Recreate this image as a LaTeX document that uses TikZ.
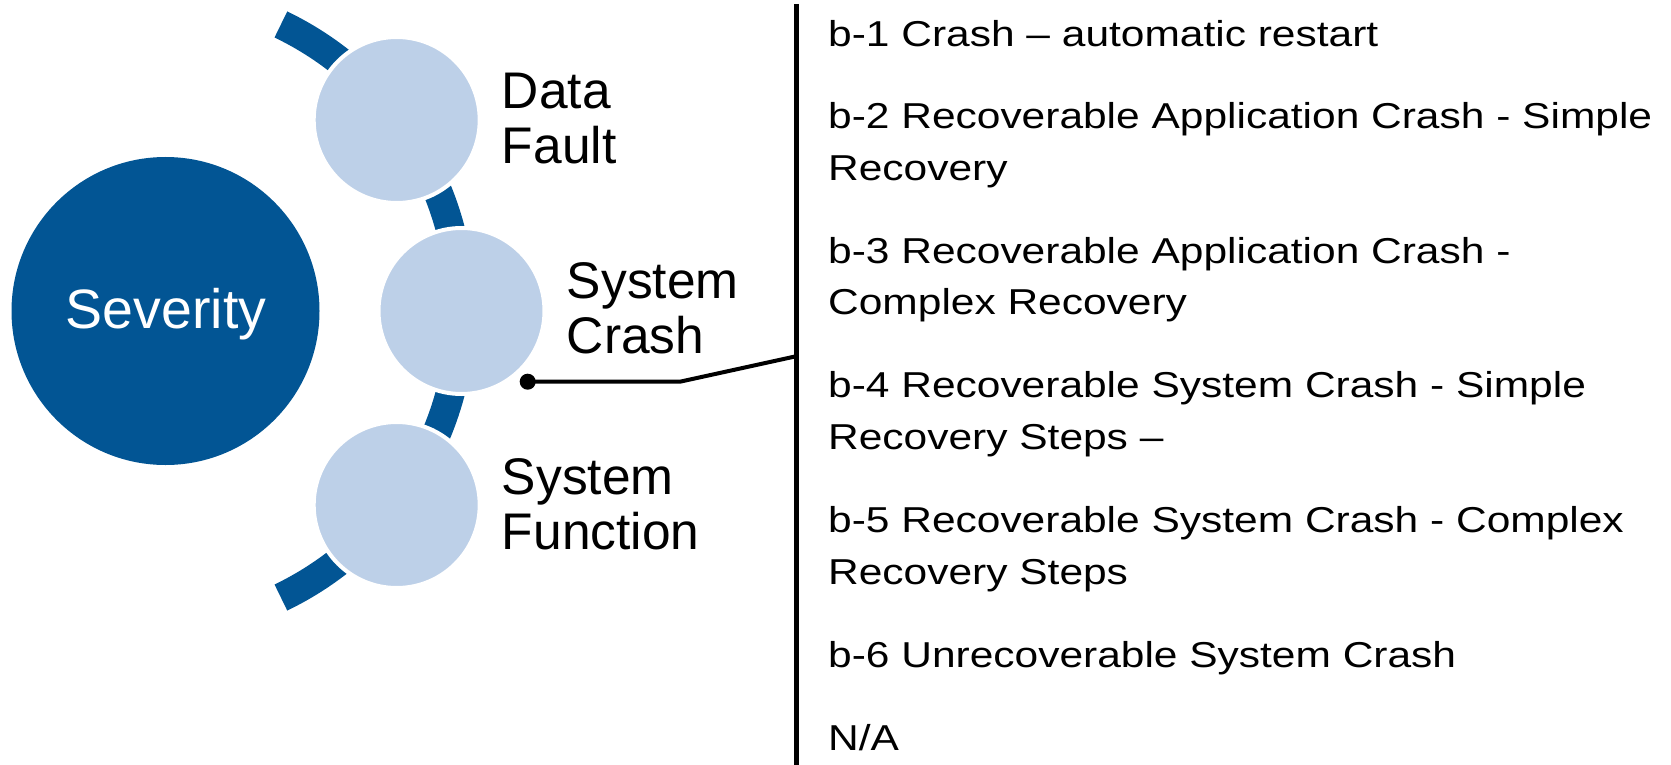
\documentclass[tikz,border=0pt]{standalone}
\usepackage{fontspec}
\setmainfont{Liberation Sans}
\newfontfamily\widesans[FakeStretch=1.18]{Liberation Sans}
\definecolor{sevblue}{RGB}{2,85,148}
\definecolor{paleblue}{RGB}{189,208,232}
\tikzset{
  hub/.style={circle, fill=sevblue, minimum size=308pt, inner sep=0pt},
  hubtext/.style={anchor=base, inner sep=0pt, text=white, font=\fontsize{55.5}{60}\selectfont},
  bubble/.style={circle, fill=paleblue, draw=white, line width=4pt, minimum size=166pt, inner sep=0pt},
  % multi-line nodes: the base anchor sits on the last line
  lbl/.style={anchor=base west, inner sep=0pt, align=left, font=\fontsize{51.5}{55}\selectfont},
  entry/.style={anchor=base west, inner sep=0pt, align=left, font=\widesans\fontsize{36}{51.7}\selectfont},
  ring/.style={sevblue, line width=29pt},
  leader/.style={black, line width=4pt},
  bar/.style={black, line width=5pt},
  pin/.style={circle, fill=black, minimum size=16pt, inner sep=0pt}
}
\begin{document}
\begin{tikzpicture}[x=1pt, y=-1pt]
\useasboundingbox (0,0) rectangle (1671,765);
\fill[white] (0,0) rectangle (1671,765);

% central circle
\node[hub] (sev) at (165.5,311) {};
\node[hubtext] (sevtext) at (166,328.3) {Severity};

% arc carrying the three categories
\draw[ring] (143,311) ++(-64.3:318) arc[start angle=-64.3, end angle=64.3, radius=318];

% category bubbles
\node[bubble] (df) at (396.7,120) {};
\node[bubble] (sc) at (461.5,311) {};
\node[bubble] (sf) at (396.7,505) {};

\node[lbl] (dflbl) at (501.7,163.3) {Data\\Fault};
\node[lbl] (sclbl) at (566.7,353.3) {System\\Crash};
\node[lbl] (sflbl) at (501.7,549) {System\\Function};

% bracket bar and leader from System Crash
\coordinate (bartop) at (796,4);
\coordinate (barbot) at (796,765);
\draw[bar] (bartop) -- (barbot);
\node[pin] (dot) at (527.7,381.7) {};
\coordinate (bend) at (680,381.7);
\coordinate (join) at (795,356.5);
\draw[leader] (dot.center) -- (bend) -- (join);

% sub-categories
\node[entry] (b1) at (828,47) {b-1 Crash – automatic restart};
\node[entry] (b2) at (828,180.2) {b-2 Recoverable Application Crash - Simple\\Recovery};
\node[entry] (b3) at (828,314.7) {b-3 Recoverable Application Crash -\\Complex Recovery};
\node[entry] (b4) at (828,449.4) {b-4 Recoverable System Crash - Simple\\Recovery Steps –};
\node[entry] (b5) at (828,584) {b-5 Recoverable System Crash - Complex\\Recovery Steps};
\node[entry] (b6) at (828,667.3) {b-6 Unrecoverable System Crash};
\node[entry] (na) at (828,750) {N/A};
\end{tikzpicture}
\end{document}
